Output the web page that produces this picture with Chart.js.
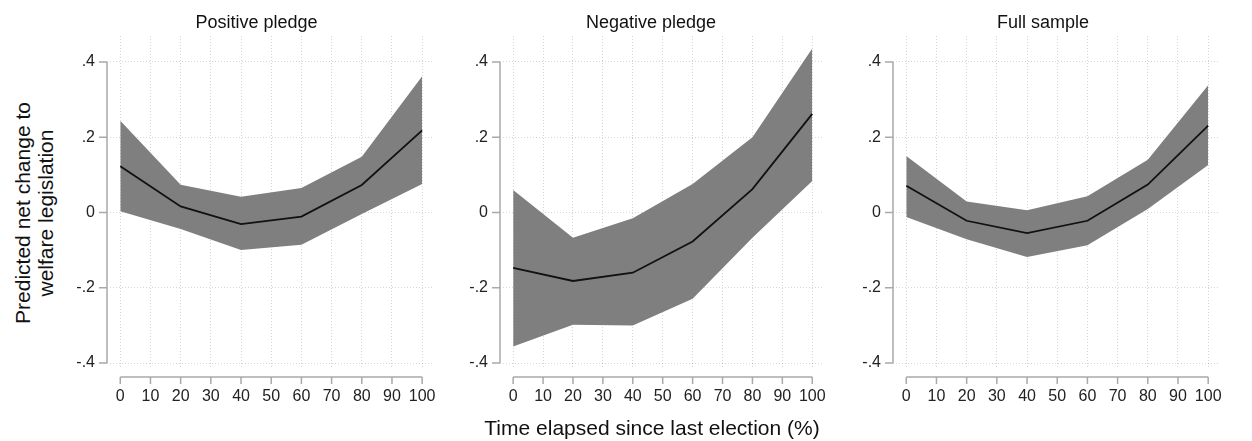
<!DOCTYPE html>
<html>
<head>
<meta charset="utf-8">
<script src="https://cdn.jsdelivr.net/npm/chart.js@4"></script>
<style>
body { margin: 0; background: #fff; width: 1252px; height: 441px; position: relative; overflow: hidden;
       font-family: "Liberation Sans", Arial, sans-serif; color: #111; }
canvas { position: absolute; top: 0; }
#ytitle { position: absolute; left: 34px; top: 213px; transform: translate(-50%, -50%) rotate(-90deg);
          font-size: 21px; line-height: 23px; text-align: center; white-space: nowrap; }
#xtitle { position: absolute; left: 652px; top: 428px; transform: translate(-50%, -50%);
          font-size: 21px; white-space: nowrap; }
</style>
</head>
<body>
<div id="ytitle">Predicted net change to<br>welfare legislation</div>
<canvas id="c1" width="396" height="441" style="left:60px"></canvas>
<canvas id="c2" width="390" height="441" style="left:456px"></canvas>
<canvas id="c3" width="396" height="441" style="left:846px"></canvas>
<div id="xtitle">Time elapsed since last election (%)</div>
<script>
// time elapsed (%) where predictions are made
const elapsed = [0, 20, 40, 60, 80, 100];
const xTicks = [0, 10, 20, 30, 40, 50, 60, 70, 80, 90, 100];
const yTicks = [-0.4, -0.2, 0, 0.2, 0.4];

const panelTitles = ['Positive pledge', 'Negative pledge', 'Full sample'];

// positive pledge
const posMean  = [0.123, 0.016, -0.031, -0.011, 0.073, 0.218];
const posUpper = [0.244, 0.074, 0.042, 0.065, 0.148, 0.362];
const posLower = [0.003, -0.044, -0.100, -0.086, -0.004, 0.076];

// negative pledge
const negMean  = [-0.147, -0.182, -0.160, -0.077, 0.062, 0.262];
const negUpper = [0.060, -0.067, -0.015, 0.076, 0.200, 0.436];
const negLower = [-0.356, -0.298, -0.300, -0.229, -0.067, 0.084];

// full sample
const fullMean  = [0.071, -0.022, -0.055, -0.022, 0.074, 0.231];
const fullUpper = [0.150, 0.029, 0.006, 0.043, 0.140, 0.338];
const fullLower = [-0.012, -0.071, -0.118, -0.087, 0.009, 0.126];

const FONT = '"Liberation Sans", Arial, sans-serif';

function pts(vals) {
  return elapsed.map((x, i) => ({ x: x, y: vals[i] }));
}

function fmt(v) {
  if (v === 0) return '0';
  return (v < 0 ? '-' : '') + String(Math.abs(v)).replace(/^0/, '');
}

// stata style axis lines that only run over the tick range
const stataAxes = {
  id: 'stataAxes',
  afterDraw(chart) {
    const ctx = chart.ctx;
    const area = chart.chartArea;
    const x = chart.scales.x, y = chart.scales.y;
    ctx.save();
    ctx.strokeStyle = '#a9a9a9';
    ctx.lineWidth = 1.5;
    ctx.beginPath();
    const ax = area.left;
    ctx.moveTo(ax, y.getPixelForValue(yTicks[yTicks.length - 1]));
    ctx.lineTo(ax, y.getPixelForValue(yTicks[0]));
    yTicks.forEach(v => {
      const p = y.getPixelForValue(v);
      ctx.moveTo(ax - 8, p);
      ctx.lineTo(ax, p);
    });
    const ay = area.bottom + 10;
    ctx.moveTo(x.getPixelForValue(xTicks[0]), ay);
    ctx.lineTo(x.getPixelForValue(xTicks[xTicks.length - 1]), ay);
    xTicks.forEach(v => {
      const p = x.getPixelForValue(v);
      ctx.moveTo(p, ay);
      ctx.lineTo(p, ay + 7);
    });
    ctx.stroke();
    ctx.restore();
  }
};

function makePanel(id, title, mean, lower, upper, yWidth, padRight) {
  return new Chart(document.getElementById(id), {
    type: 'line',
    data: {
      datasets: [
        // band first (drawn underneath), mean line on top
        { data: pts(upper), fill: '+1', backgroundColor: '#7f7f7f', borderWidth: 0, pointRadius: 0, order: 2 },
        { data: pts(lower), fill: false, borderWidth: 0, pointRadius: 0, order: 1 },
        { data: pts(mean), fill: false, borderColor: '#111', borderWidth: 1.8, pointRadius: 0, order: 0 }
      ]
    },
    options: {
      responsive: false,
      animation: false,
      devicePixelRatio: 1,
      layout: { padding: { left: 0, right: padRight, top: 0, bottom: 0 } },
      plugins: {
        legend: { display: false },
        tooltip: { enabled: false },
        title: {
          display: true,
          text: title,
          color: '#111',
          font: { family: FONT, size: 18, weight: 'normal' },
          padding: { top: 12.5, bottom: 1.9 }
        }
      },
      scales: {
        x: {
          type: 'linear',
          min: -4.4,
          max: 103.6,
          afterBuildTicks: s => { s.ticks = xTicks.map(v => ({ value: v })); },
          afterFit: s => { s.height = 74; },
          grid: { color: 'rgba(0,0,0,0.16)', drawTicks: false, lineWidth: 1 },
          border: { display: false, dash: [1, 2] },
          ticks: { color: '#222', padding: 20.4, maxRotation: 0, font: { family: FONT, size: 16 } }
        },
        y: {
          type: 'linear',
          min: -0.4106,
          max: 0.469,
          afterBuildTicks: s => { s.ticks = yTicks.map(v => ({ value: v })); },
          afterFit: s => { s.width = yWidth; },
          grid: { color: 'rgba(0,0,0,0.16)', drawTicks: false, lineWidth: 1 },
          border: { display: false, dash: [1, 2] },
          ticks: { color: '#222', padding: 12, callback: v => fmt(v), font: { family: FONT, size: 16 } }
        }
      }
    },
    plugins: [stataAxes]
  });
}

makePanel('c1', panelTitles[0], posMean, posLower, posUpper, 47, 3);
makePanel('c2', panelTitles[1], negMean, negLower, negUpper, 44, 0);
makePanel('c3', panelTitles[2], fullMean, fullLower, fullUpper, 47, 2);
</script>
</body>
</html>
